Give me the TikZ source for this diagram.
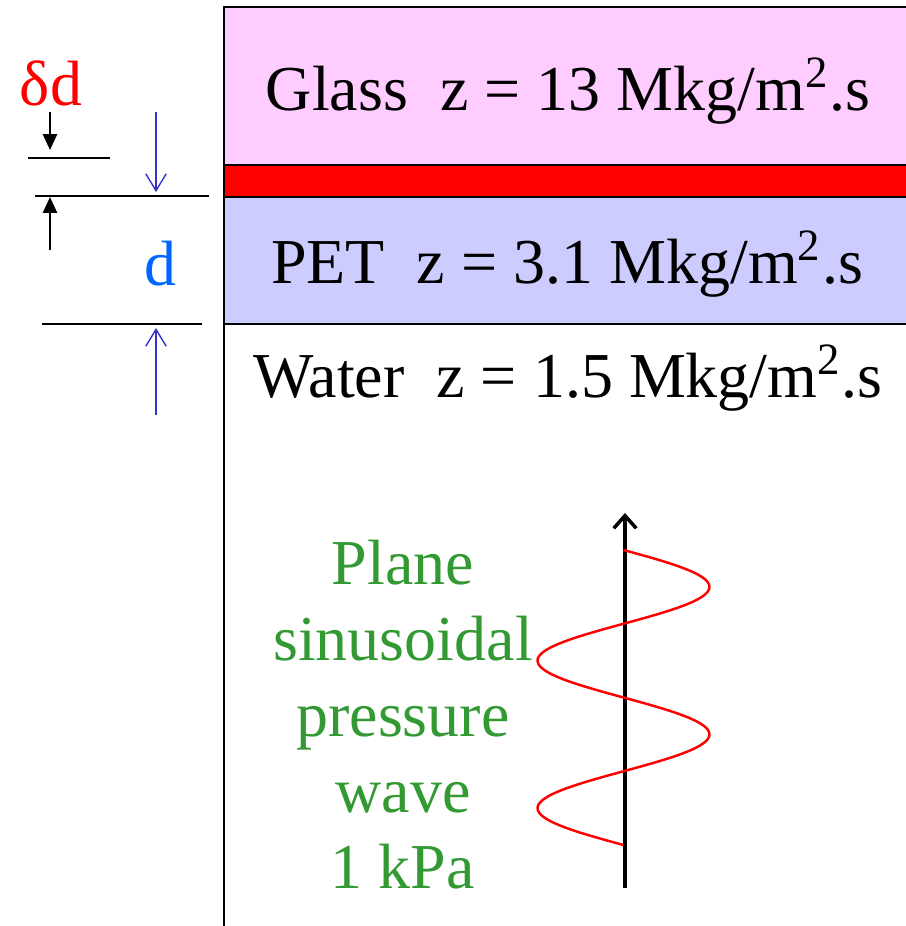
\documentclass[tikz,border=0pt]{standalone}
\usepackage{fontspec}
\setmainfont{Liberation Serif}
\usepackage{xcolor}
\definecolor{glassPink}{HTML}{FFCCFF}
\definecolor{petLilac}{HTML}{CCCCFF}
\definecolor{filmRed}{HTML}{FF0000}
\definecolor{waveGreen}{HTML}{339933}
\definecolor{markBlue}{HTML}{3333CC}
\definecolor{labelBlue}{HTML}{0066FF}
\usepackage{tikz}
\usetikzlibrary{
    arrows.meta
}
\tikzset{
    % Base style for all texts
    big text/.style={
        font=\fontsize{18.2pt}{21.6pt}\selectfont,
        inner sep=0pt,
    },
    % Layer boxes - open to the right
    layer/.style={
        rectangle,
        draw=black,
        line width=0.6pt,
        minimum width=6.95cm,
        inner sep=0pt,
        outer sep=0pt,
        anchor=north west,
    },
    % Wall line below the layers
    wall/.style={
        draw=black,
        line width=0.6pt,
    },
    % Reference ticks on the left
    tick/.style={
        draw=black,
        line width=0.6pt,
    },
    % Black arrows for the film thickness
    film arrow/.style={
        -{Triangle[length=4.5pt, width=4pt]},
        line width=0.6pt,
    },
    % Thin blue arrows for the layer thickness
    layer arrow/.style={
        -{Straight Barb[length=4.8pt, width=5.8pt]},
        draw=markBlue,
        line width=0.4pt,
    },
    % Propagation axis
    axis arrow/.style={
        -{Straight Barb[length=3.6pt, width=6.4pt]},
        line width=1pt,
    },
    % Pressure wave curve
    wave/.style={
        draw=filmRed,
        line width=0.7pt,
    },
}
\begin{document}
\begin{tikzpicture}[x=0.01cm, y=-0.01cm]
    \useasboundingbox (0,0) rectangle (906,926);

    % layers
    \node (glass) [layer, fill=glassPink, minimum height=1.58cm] at (224,7) {};
    \node (film) [layer, fill=filmRed, minimum height=0.32cm] at (glass.south west) {};
    \node (pet) [layer, fill=petLilac, minimum height=1.27cm] at (film.south west) {};
    \coordinate (wall end) at (224,926);
    \draw [wall] (pet.south west) -- (wall end);

    % layer labels
    \node (glass label) [big text, anchor=base] at (568,110) {Glass\ \ z = 13 Mkg/m\textsuperscript{2}.s};
    \node (pet label) [big text, anchor=base] at (567,283) {PET\ \ z = 3.1 Mkg/m\textsuperscript{2}.s};
    \node (water label) [big text, anchor=base] at (568,397) {Water\ \ z = 1.5 Mkg/m\textsuperscript{2}.s};

    % thickness marks
    \draw [tick] (28,158) -- (110,158);
    \draw [tick] (35,196) -- (209,196);
    \draw [tick] (42,324) -- (202,324);
    \node (dd label) [big text, text=filmRed, anchor=base] at (51,105) {δd};
    \node (d label) [big text, text=labelBlue, anchor=base] at (160,285) {d};

    \coordinate (dd from) at (50,112);
    \coordinate (dd to) at (50,150);
    \coordinate (dd up from) at (50,250);
    \coordinate (dd up to) at (50,197);
    \coordinate (d from) at (156,112);
    \coordinate (d to) at (156,192);
    \coordinate (d up from) at (156,415);
    \coordinate (d up to) at (156,328);
    \draw [film arrow] (dd from) -- (dd to);
    \draw [film arrow] (dd up from) -- (dd up to);
    \draw [layer arrow] (d from) -- (d to);
    \draw [layer arrow] (d up from) -- (d up to);

    % incoming wave
    \node (wave label) [big text, text=waveGreen, align=center, anchor=base] at (403,888) {Plane\\sinusoidal\\pressure\\wave\\1 kPa};
    \coordinate (axis start) at (625,888);
    \coordinate (axis end) at (625,513);
    \draw [axis arrow] (axis start) -- (axis end);
    \draw [wave] plot[domain=550:845, samples=120] ({623.5+86*sin((\x-550)*2.4407)}, \x);
\end{tikzpicture}
\end{document}
